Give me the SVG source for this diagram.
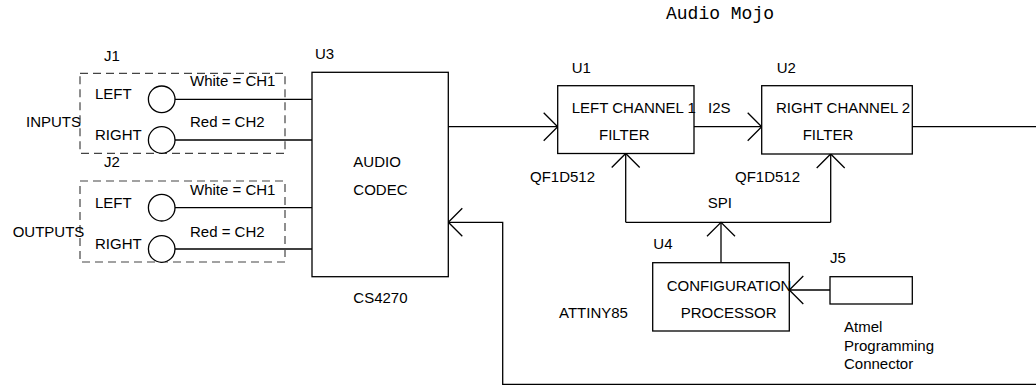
<svg xmlns="http://www.w3.org/2000/svg" width="1036" height="386" viewBox="0 0 1036 386">
<style>
text{font-family:"Liberation Sans",Arial,sans-serif;font-size:15px;fill:#000}
.mono{font-family:"Liberation Mono","Courier New",monospace;font-size:18px}
.box{fill:#fff;stroke:#000;stroke-width:1.3}
.dash{fill:none;stroke:#444;stroke-width:1.2;stroke-dasharray:8 5}
.jack{fill:#fff;stroke:#000;stroke-width:1.3}
.wire{fill:none;stroke:#000;stroke-width:1.3}
</style>
<defs>
<marker id="arr" markerUnits="userSpaceOnUse" viewBox="-16 -16 18 32" refX="0" refY="0" markerWidth="18" markerHeight="32" orient="auto" overflow="visible">
<path d="M-14,-14 L0,0 L-14,14" fill="none" stroke="#000" stroke-width="1.3"/>
</marker>
</defs>
<rect width="1036" height="386" fill="#fff"/>
<text class="mono" x="666" y="19">Audio Mojo</text>
<g id="connectors">
<path class="wire" d="M175,99.3 H312"/>
<path class="wire" d="M175,140 H312"/>
<path class="wire" d="M175,207.7 H312"/>
<path class="wire" d="M175,249 H312"/>
<path class="wire" d="M448,126.7 H557.7" marker-end="url(#arr)"/>
<path class="wire" d="M694,126.7 H761.7" marker-end="url(#arr)"/>
<path class="wire" d="M912,126.7 H1036"/>
<path class="wire" d="M625.7,222.3 H830.7"/>
<path class="wire" d="M625.7,222.3 V153.5" marker-end="url(#arr)"/>
<path class="wire" d="M830.7,222.3 V154" marker-end="url(#arr)"/>
<path class="wire" d="M721,262.7 V222.3" marker-end="url(#arr)"/>
<path class="wire" d="M830,290 H789.3" marker-end="url(#arr)"/>
<path class="wire" d="M1036,384.3 H502.7 V222.3 H448.3" marker-end="url(#arr)"/>
<text x="708" y="113">I2S</text>
<text x="707.7" y="208">SPI</text>
</g>
<g id="J1">
<rect class="dash" x="80" y="73.3" width="205" height="80"/>
<text x="104" y="61">J1</text>
<text x="95" y="99">LEFT</text>
<text x="95" y="140">RIGHT</text>
<text x="190" y="86">White = CH1</text>
<text x="190" y="127">Red = CH2</text>
<text x="26" y="127">INPUTS</text>
<circle class="jack" cx="161.7" cy="99.3" r="13.3"/>
<circle class="jack" cx="161.7" cy="140" r="13.3"/>
</g>
<g id="J2">
<rect class="dash" x="80" y="181" width="205" height="81"/>
<text x="104" y="167">J2</text>
<text x="95" y="208">LEFT</text>
<text x="95" y="249">RIGHT</text>
<text x="190" y="195">White = CH1</text>
<text x="190" y="236.5">Red = CH2</text>
<text x="12.7" y="236.5">OUTPUTS</text>
<circle class="jack" cx="161.7" cy="207.7" r="13.3"/>
<circle class="jack" cx="161.7" cy="249" r="13.3"/>
</g>
<g id="U3">
<rect class="box" x="312" y="72.3" width="136.3" height="204.4"/>
<text x="315" y="59">U3</text>
<text x="353.3" y="167">AUDIO</text>
<text x="353.3" y="195">CODEC</text>
<text x="353.3" y="303">CS4270</text>
</g>
<g id="U1">
<rect class="box" x="557.7" y="85.7" width="136.3" height="67.8"/>
<text x="571.7" y="73">U1</text>
<text x="571.7" y="113">LEFT CHANNEL 1</text>
<text x="599" y="140">FILTER</text>
<text x="530" y="181.5">QF1D512</text>
</g>
<g id="U2">
<rect class="box" x="761.7" y="85.7" width="150.6" height="68.3"/>
<text x="776.7" y="73">U2</text>
<text x="776" y="113">RIGHT CHANNEL 2</text>
<text x="802.7" y="140">FILTER</text>
<text x="735" y="181.5">QF1D512</text>
</g>
<g id="U4">
<rect class="box" x="652.7" y="262.7" width="136.6" height="68.3"/>
<text x="653.3" y="249">U4</text>
<text x="666.7" y="290.5">CONFIGURATION</text>
<text x="680.7" y="317.5">PROCESSOR</text>
<text x="559" y="317.5">ATTINY85</text>
</g>
<g id="J5">
<rect class="box" x="830" y="276.7" width="82.3" height="27.3"/>
<text x="830" y="263">J5</text>
<text x="844" y="331.5">Atmel</text>
<text x="844" y="350.5">Programming</text>
<text x="844" y="369">Connector</text>
</g>
</svg>
